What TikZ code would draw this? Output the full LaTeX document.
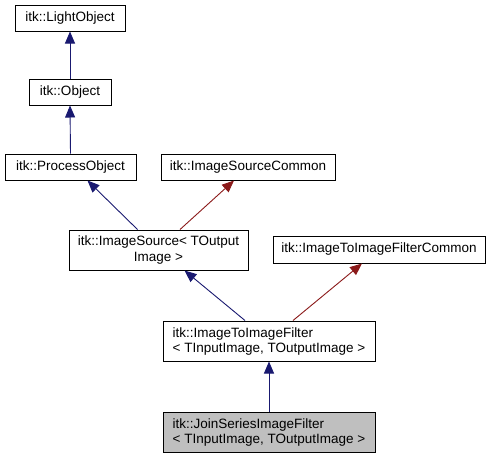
\documentclass[tikz,border=0pt]{standalone}
\usepackage{fontspec}
\setmainfont{Liberation Sans}
\usetikzlibrary{arrows.meta}
\definecolor{edgeblue}{RGB}{25,25,112}
\definecolor{edgered}{RGB}{139,26,26}
\definecolor{hilite}{RGB}{191,191,191}
\begin{document}
\begin{tikzpicture}[x=1pt,y=-1pt,
  box/.style={draw=black,line width=1pt,fill=white,inner sep=0pt,font=\fontsize{13.5}{15}\selectfont},
  inh/.style={draw=edgeblue,line width=0.9pt,-{Triangle[length=12pt,width=10pt]}},
  uses/.style={draw=edgered,line width=0.9pt,-{Triangle[length=12pt,width=10pt]}}]
\useasboundingbox (0,0) rectangle (492,459);
\node[box,minimum width=110pt,minimum height=26pt] (lo) at (70,18) {itk::LightObject};
\node[box,minimum width=82pt,minimum height=26pt] (ob) at (70,92) {itk::Object};
\node[box,minimum width=131pt,minimum height=26pt] (po) at (70.5,167) {itk::ProcessObject};
\node[box,minimum width=174pt,minimum height=26pt] (isc) at (248,167) {itk::ImageSourceCommon};
\node[box,minimum width=179pt,minimum height=40pt,align=center] (is) at (158.5,250) {itk::ImageSource< TOutput\\Image >};
\node[box,minimum width=212pt,minimum height=27pt] (itc) at (379,249.5) {itk::ImageToImageFilterCommon};
\node[box,minimum width=212pt,minimum height=40pt,align=left] (itf) at (269,341) {itk::ImageToImageFilter\\< TInputImage, TOutputImage >};
\node[box,fill=hilite,minimum width=212pt,minimum height=40pt,align=left] (js) at (269,432) {itk::JoinSeriesImageFilter\\< TInputImage, TOutputImage >};
\draw[inh] (ob.north) -- (lo.south);
\draw[inh] (po.north) -- (ob.south);
\draw[inh] ([xshift=-21pt]is.north) -- ([xshift=17pt]po.south);
\draw[uses] ([xshift=21.5pt]is.north) -- ([xshift=-14pt]isc.south);
\draw[inh] ([xshift=-24pt]itf.north) -- ([xshift=26pt]is.south);
\draw[uses] ([xshift=24pt]itf.north) -- ([xshift=-17pt]itc.south);
\draw[inh] (js.north) -- (itf.south);
\end{tikzpicture}
\end{document}
